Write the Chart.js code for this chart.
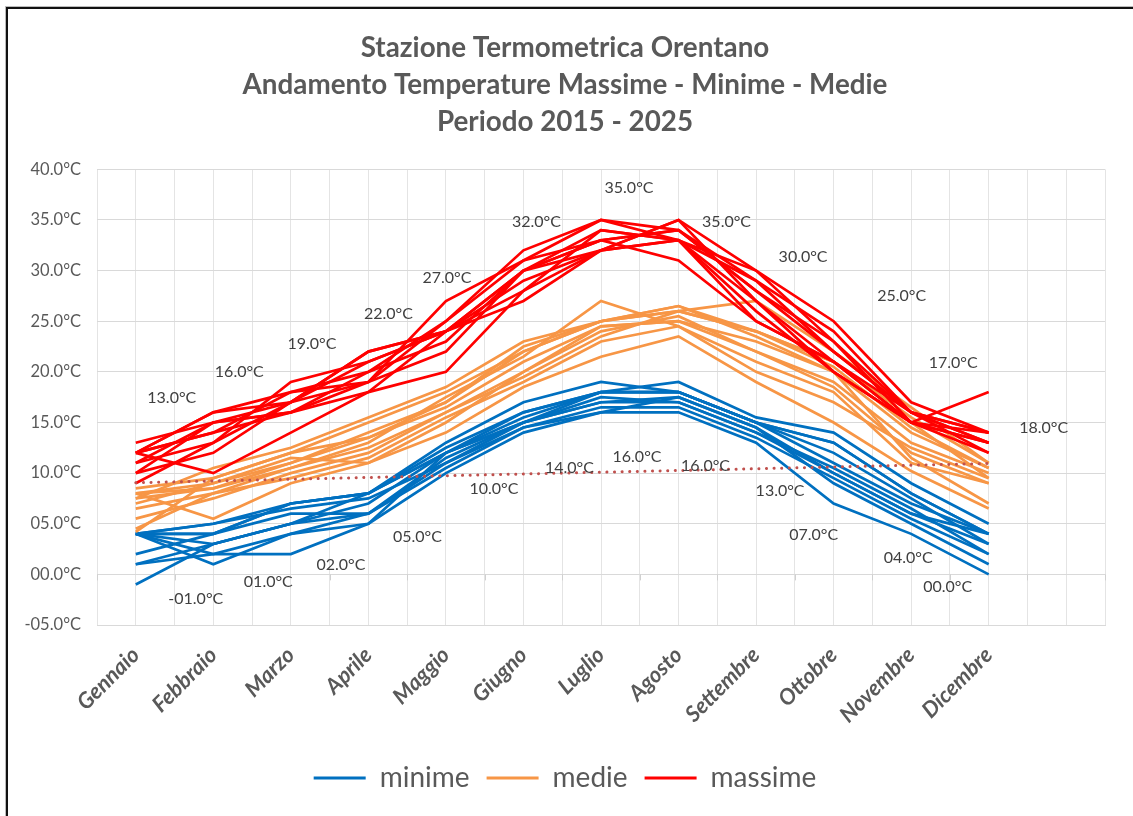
<!DOCTYPE html>
<html>
<head>
<meta charset="utf-8">
<script src="https://cdn.jsdelivr.net/npm/chart.js@4/dist/chart.umd.min.js"></script>
<style>
    html, body { margin: 0; padding: 0; background: #fff; }
    #wrap { position: relative; width: 1133px; height: 816px; overflow: hidden; }
    #frame {
        position: absolute; left: 6px; top: 7px; width: 1200px; height: 900px;
        border-left: 2px solid #111; border-top: 2px solid #111;
        box-shadow: -1px -1px 0 #bbb; pointer-events: none;
    }
    canvas { position: absolute; left: 0; top: 0; }
</style>
</head>
<body>
<div id="wrap">
    <canvas id="tempChart" width="1133" height="816"></canvas>
    <div id="frame"></div>
</div>
<script>
const months = ['Gennaio', 'Febbraio', 'Marzo', 'Aprile', 'Maggio', 'Giugno',
    'Luglio', 'Agosto', 'Settembre', 'Ottobre', 'Novembre', 'Dicembre'];
const years = ['2015', '2016', '2017', '2018', '2019', '2020', '2021', '2022', '2023', '2024', '2025'];

// one row per year, Gennaio..Dicembre
const minime = [
    [4, 5, 7, 8, 12, 15, 18, 18, 15, 13, 8, 4],
    [4, 3, 5, 6, 11, 15, 17, 17.5, 14.5, 10, 6, 3],
    [2, 4, 7, 8, 13, 17, 19, 18, 15, 11, 7, 4],
    [1, 3, 5, 7, 12, 16, 18, 19, 15.5, 14, 9, 5],
    [4, 1, 4, 6, 11.5, 15, 17, 17, 14, 10.5, 6.5, 2],
    [-1, 3, 5, 8, 12, 15.5, 18, 18, 15, 12, 7.5, 3],
    [4, 5, 6.5, 7.5, 11, 14.5, 16.5, 16.5, 13.5, 9.5, 5.5, 2],
    [4, 4, 6, 6, 10.5, 14.5, 16, 16, 13, 7, 4, 0],
    [1, 2, 2, 5, 10, 14, 16, 17.5, 14.5, 9, 5, 1],
    [4, 2, 4, 5, 12, 15, 17.5, 17, 14, 10, 6, 4],
    [4, 4, 7, 8, 12.5, 16, 18, 18, 15, 13, 8, 4],
];
const medie = [
    [8.5, 9.5, 12, 15, 18, 22, 25, 26, 24, 21, 15.5, 11],
    [8, 8.5, 11, 13.5, 16.5, 21, 24.5, 25, 22, 19, 13, 10],
    [7.5, 10.5, 12.5, 15.5, 18.5, 23, 25, 26.5, 23.5, 20, 14, 10.5],
    [7, 9, 11, 14, 17, 22.5, 25, 26.5, 24, 20.5, 14.5, 10.5],
    [6.5, 8, 10.5, 12.5, 16, 20, 24, 25.5, 22, 18.5, 12, 9],
    [8, 5.5, 9, 11, 15, 20, 24.5, 25, 23, 20, 11.5, 7],
    [7.5, 8.5, 10.5, 13, 17.5, 21.5, 27, 24.5, 20, 17, 12.5, 9.5],
    [5.5, 7.5, 10, 12, 16, 19.5, 23.5, 26, 27, 22, 16.5, 11],
    [4.5, 8, 9.5, 11.5, 15.5, 19, 23, 24.5, 21, 18, 11, 9],
    [8, 9, 11.5, 11, 14, 18.5, 21.5, 23.5, 19, 15, 10.2, 6.5],
    [4.2, 9.5, 12, 13.5, 17, 22, 25, 26, 24, 21, 15, 9.5],
];
const massime = [
    [12, 16, 17, 22, 24, 30, 33, 34, 28, 22, 16, 14],
    [13, 15, 16, 20, 25, 32, 35, 33, 27, 21, 15, 13],
    [11, 13, 19, 21, 24, 29, 32, 35, 30, 25, 17, 14],
    [12, 14, 18, 19, 27, 31, 33, 34, 29, 24, 16, 13],
    [9, 13, 17, 22, 24, 28, 34, 33, 26, 20, 15, 12],
    [12, 16, 18, 20, 23, 30, 33, 31, 25, 21, 16, 14],
    [11, 15, 16, 19, 25, 31, 35, 34, 28, 23, 15, 13],
    [10, 12, 17, 19, 22, 30, 32, 33, 29, 22, 16, 12],
    [12, 14, 16, 18, 24, 27, 32, 35, 27, 20, 15, 14],
    [12, 10, 14, 18, 20, 28, 32, 33, 25, 21, 15, 18],
    [10, 15, 17, 21, 24, 30, 34, 33, 30, 23, 16, 13],
];

// labelled extremes per month
const maxLabels = [13, 16, 19, 22, 27, 32, 35, 35, 30, 25, 17, 18];
const minLabels = [-1, 1, 2, 5, 10, 14, 16, 16, 13, 7, 4, 0];
// dotted trend line, Gennaio -> Dicembre
const trendEnds = [9.05, 10.95];

const yMin = -5;
const yMax = 40;
const yStep = 5;

// where each label sits relative to its point (px)
const maxLabelShift = [[36, -45], [26, -41], [21, -38], [20, -38], [1, -23], [13, -29],
    [28, -32], [48, 2], [47, -14], [68, -25], [42, -39], [55, 36]];
const minLabelShift = [[60, 14], [55, 18], [50, 11], [49, 13], [48, 16], [46, 35],
    [36, 44], [27, 53], [24, 48], [-20, 31], [-3, 24], [-41, 12]];

const colors = { minime: '#0070C0', medie: '#F79646', massime: '#FF0000', trend: '#C0504D' };
const fontFamily = 'Lato, "Open Sans", sans-serif';
const padLeft = 25;

const toPoints = (vals) => vals.map((v, i) => ({ x: i + 0.5, y: v }));

const fmtTemp = (v) => {
    const a = Math.abs(v);
    return (v < 0 ? '-' : '') + (a < 10 ? '0' : '') + a.toFixed(1) + '°C';
};

const datasets = [];
const addGroup = (rows, name, order) => {
    rows.forEach((row, k) => {
        datasets.push({
            label: name,
            year: years[k],
            data: toPoints(row),
            borderColor: colors[name],
            backgroundColor: colors[name],
            borderWidth: 2.7,
            pointRadius: 0,
            tension: 0,
            order,
        });
    });
};
addGroup(minime, 'minime', 4);
addGroup(medie, 'medie', 3);
addGroup(massime, 'massime', 2);
datasets.push({
    label: 'trend',
    data: [{ x: 0.5, y: trendEnds[0] }, { x: months.length - 0.5, y: trendEnds[1] }],
    borderColor: colors.trend,
    borderWidth: 3,
    borderDash: [0.1, 7.5],
    borderCapStyle: 'round',
    pointRadius: 0,
    order: 1,
});

const extremesPlugin = {
    id: 'extremes',
    afterDatasetsDraw(chart) {
        const { ctx, scales: { x, y } } = chart;
        ctx.save();
        // axis crossing at 0 with small ticks at category borders
        const y0 = y.getPixelForValue(0);
        ctx.strokeStyle = '#D0D0D0';
        ctx.lineWidth = 1;
        for (let i = 0; i <= months.length + 1; i++) {
            const px = Math.round(x.getPixelForValue(i)) + 0.5;
            ctx.beginPath();
            ctx.moveTo(px, y0);
            ctx.lineTo(px, y0 + 6);
            ctx.stroke();
        }
        ctx.font = '16px ' + fontFamily;
        ctx.fillStyle = '#404040';
        ctx.textAlign = 'center';
        ctx.textBaseline = 'middle';
        maxLabels.forEach((v, i) => {
            const [dx, dy] = maxLabelShift[i];
            ctx.fillText(fmtTemp(v), x.getPixelForValue(i + 0.5) + dx, y.getPixelForValue(v) + dy);
        });
        minLabels.forEach((v, i) => {
            const [dx, dy] = minLabelShift[i];
            ctx.fillText(fmtTemp(v), x.getPixelForValue(i + 0.5) + dx, y.getPixelForValue(v) + dy);
        });
        ctx.restore();
    },
};

const chart = new Chart(document.getElementById('tempChart'), {
    type: 'line',
    data: { datasets },
    options: {
        responsive: false,
        animation: false,
        layout: { padding: { left: padLeft, right: 28, top: 0, bottom: 14 } },
        scales: {
            x: {
                type: 'linear',
                min: 0,
                max: months.length + 1,
                afterFit: (scale) => {
                    scale.height = 122;
                    scale.paddingRight = 0;
                },
                ticks: {
                    stepSize: 0.5,
                    autoSkip: false,
                    minRotation: 45,
                    maxRotation: 45,
                    padding: 17,
                    color: '#595959',
                    font: { family: fontFamily, size: 22, weight: 'bold', style: 'italic' },
                    callback: (value) => {
                        const idx = value - 0.5;
                        return Number.isInteger(idx) && idx < months.length ? months[idx] : '';
                    },
                },
                grid: { color: '#E4E4E4', drawTicks: false },
                border: { color: '#D9D9D9' },
            },
            y: {
                min: yMin,
                max: yMax,
                afterFit: (scale) => { scale.width = 97 - padLeft; },
                ticks: {
                    stepSize: yStep,
                    padding: 16,
                    color: '#595959',
                    font: { family: fontFamily, size: 16.5 },
                    callback: (value) => fmtTemp(value),
                },
                grid: { color: '#D9D9D9', drawTicks: false },
                border: { display: false },
            },
        },
        plugins: {
            title: {
                display: true,
                text: ['Stazione Termometrica Orentano',
                    'Andamento Temperature Massime - Minime - Medie',
                    'Periodo 2015 - 2025'],
                color: '#595959',
                font: { family: fontFamily, size: 27.8, weight: 'bold', lineHeight: 1.335 },
                padding: { top: 29, bottom: 29 },
            },
            legend: {
                position: 'bottom',
                labels: {
                    color: '#595959',
                    font: { family: fontFamily, size: 28 },
                    boxWidth: 52,
                    boxHeight: 3,
                    padding: 17,
                    sort: (a, b) => a.datasetIndex - b.datasetIndex,
                    generateLabels: (ch) => Chart.defaults.plugins.legend.labels.generateLabels(ch)
                        .map((item) => ({ ...item, lineWidth: 0 })),
                    filter: (item, data) => {
                        const label = item.text;
                        if (label === 'trend') return false;
                        const first = data.datasets.findIndex((d) => d.label === label);
                        return first === item.datasetIndex;
                    },
                },
            },
            tooltip: { enabled: false },
        },
    },
    plugins: [extremesPlugin],
});
</script>
</body>
</html>
